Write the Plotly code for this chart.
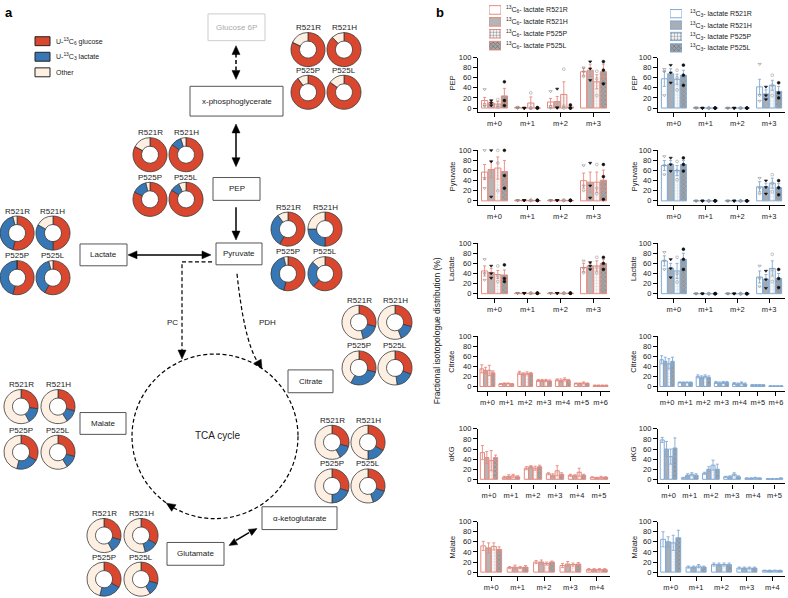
import math
import plotly.graph_objects as go

W, H = 788, 598
FONT = "Liberation Sans, Arial, Helvetica, sans-serif"

# ======================= DATA =======================
cell_lines = ["R521R", "R521H", "P525P", "P525L"]
source_labels = ["U-<sup>13</sup>C<sub>6</sub> glucose", "U-<sup>13</sup>C<sub>3</sub> lactate", "Other"]

# Panel a: share (%) of each pool labelled from [glucose, lactate, other], per cell line
xpg_frac = [[82, 0, 18], [88, 0, 12], [90, 0, 10], [85, 0, 15]]
pep_frac = [[83, 0, 17], [85, 10, 5], [82, 14, 4], [84, 9, 7]]
lac_frac = [[54, 42, 4], [50, 33, 17], [54, 46, 0], [58, 38, 4]]
pyr_frac = [[58, 32, 10], [50, 25, 25], [54, 42, 4], [62, 25, 13]]
cit_frac = [[29, 17, 54], [29, 15, 56], [29, 29, 42], [31, 17, 52]]
akg_frac = [[29, 13, 58], [33, 17, 50], [30, 20, 50], [30, 15, 55]]
mal_frac = [[27, 15, 58], [29, 12, 59], [33, 21, 46], [29, 12, 59]]
glu_frac = [[29, 13, 58], [33, 13, 54], [33, 21, 46], [29, 12, 59]]

# Panel b: isotopologue labels
iso4 = ["m+0", "m+1", "m+2", "m+3"]
iso5 = ["m+0", "m+1", "m+2", "m+3", "m+4"]
iso6 = ["m+0", "m+1", "m+2", "m+3", "m+4", "m+5"]
iso7 = ["m+0", "m+1", "m+2", "m+3", "m+4", "m+5", "m+6"]
metabolites = ["PEP", "Pyruvate", "Lactate", "Citrate", "αKG", "Malate"]

# rows = isotopologue, columns = [R521R, R521H, P525P, P525L]; mean and SEM (%)
glc_pep_mean = [[15, 10, 8, 24], [1, 0, 10, 0], [12, 13, 27, 2], [72, 75, 52, 72]]
glc_pep_sem = [[6, 4, 5, 15], [1, 0, 12, 1], [7, 10, 25, 3], [7, 12, 14, 15]]
glc_pyr_mean = [[57, 62, 65, 58], [1, 1, 1, 1], [1, 1, 1, 1], [40, 37, 37, 41]]
glc_pyr_sem = [[15, 16, 22, 22], [0.5, 0.5, 0.5, 0.5], [0.5, 0.5, 0.5, 0.5], [15, 20, 20, 20]]
glc_lac_mean = [[45, 42, 38, 37], [1, 1, 1, 1], [1, 1, 1, 1], [52, 55, 55, 60]]
glc_lac_sem = [[10, 8, 8, 10], [0.5, 0.5, 0.5, 0.5], [0.5, 0.5, 0.5, 0.5], [8, 5, 10, 8]]
glc_cit_mean = [[35, 32, 32, 27], [5, 6, 6, 5], [27, 25, 26, 26], [12, 12, 12, 11],
                [13, 12, 14, 12], [6, 6, 7, 6], [2, 2, 2, 2]]
glc_cit_sem = [[8, 6, 10, 4], [1, 1, 1, 1], [3, 2, 3, 2], [2, 2, 2, 2],
               [2, 3, 3, 2], [1, 1, 2, 1], [1, 1, 1, 1]]
glc_akg_mean = [[53, 43, 37, 43], [4, 6, 7, 5], [22, 25, 22, 25], [11, 8, 17, 10],
                [8, 7, 14, 8], [4, 3, 4, 4]]
glc_akg_sem = [[14, 12, 20, 5], [2, 3, 3, 2], [3, 2, 4, 3], [2, 3, 10, 3],
               [2, 2, 8, 2], [1, 1, 2, 1]]
glc_mal_mean = [[52, 48, 51, 45], [9, 10, 9, 10], [20, 20, 17, 20], [13, 16, 15, 16], [5, 5, 5, 5]]
glc_mal_sem = [[9, 10, 7, 5], [2, 4, 2, 3], [3, 4, 3, 2], [4, 5, 3, 3], [2, 2, 2, 2]]

lac_pep_mean = [[58, 68, 57, 65], [0.5, 0, 0, 0], [0, 0, 0, 0], [42, 28, 45, 33]]
lac_pep_sem = [[15, 10, 10, 10], [0.5, 0.5, 0.5, 0.5], [0.5, 0.5, 0.5, 0.5], [15, 8, 10, 10]]
lac_pyr_mean = [[70, 72, 60, 72], [0, 0, 0, 0], [0, 0, 0, 0], [28, 27, 35, 26]]
lac_pyr_sem = [[10, 8, 10, 8], [0.5, 0.5, 0.5, 0.5], [0.5, 0.5, 0.5, 0.5], [10, 8, 10, 8]]
lac_lac_mean = [[65, 50, 45, 68], [0, 0, 0, 0], [0, 0, 0, 0], [33, 28, 50, 30]]
lac_lac_sem = [[10, 10, 15, 12], [0.5, 0.5, 0.5, 0.5], [0.5, 0.5, 0.5, 0.5], [12, 10, 15, 10]]
lac_cit_mean = [[53, 50, 45, 50], [8, 8, 8, 8], [20, 18, 20, 18], [8, 7, 8, 8],
                [6, 5, 7, 5], [3, 3, 3, 3], [1, 1, 1, 1]]
lac_cit_sem = [[8, 8, 10, 8], [1, 1, 1, 1], [3, 3, 3, 3], [2, 2, 2, 2],
               [2, 2, 2, 2], [1, 1, 1, 1], [0.5, 0.5, 0.5, 0.5]]
lac_akg_mean = [[78, 60, 45, 62], [3, 8, 10, 8], [12, 20, 28, 20], [5, 5, 10, 5],
                [2, 2, 3, 2], [1, 1, 1, 2]]
lac_akg_sem = [[5, 15, 15, 20], [1, 3, 3, 3], [2, 5, 10, 10], [1, 2, 3, 2],
               [1, 1, 1, 1], [0.5, 0.5, 0.5, 1]]
lac_mal_mean = [[65, 60, 58, 68], [10, 10, 12, 10], [15, 15, 15, 15], [8, 8, 8, 8], [3, 3, 3, 3]]
lac_mal_sem = [[15, 10, 15, 15], [2, 2, 3, 2], [3, 3, 3, 3], [2, 2, 2, 2], [1, 1, 1, 1]]

# individual replicates (3 per bar) for the glycolytic metabolites: [iso][cell line]
glc_pep_pts = [[[37, 5, 4], [15, 10, 5], [17, 5, 2], [52, 15, 5]],
               [[2, 0, 0], [0, 0, 0], [30, 0, 0], [1, 0, 0]],
               [[33, 3, 0], [38, 1, 0], [77, 4, 0], [6, 0, 0]],
               [[80, 72, 62], [92, 78, 55], [73, 58, 25], [92, 75, 48]]]
glc_pyr_pts = [[[100, 45, 25], [100, 78, 8], [100, 75, 20], [100, 50, 25]],
               [[1, 1, 1], [1, 1, 1], [1, 1, 1], [1, 1, 1]],
               [[1, 1, 1], [1, 1, 1], [1, 1, 1], [1, 1, 1]],
               [[70, 30, 20], [75, 30, 6], [72, 25, 14], [72, 48, 3]]]
glc_lac_pts = [[[68, 40, 27], [55, 40, 31], [55, 35, 24], [57, 30, 24]],
               [[1, 1, 1], [1, 1, 1], [1, 1, 1], [1, 1, 1]],
               [[1, 1, 1], [1, 1, 1], [1, 1, 1], [1, 1, 1]],
               [[65, 50, 41], [62, 55, 48], [72, 52, 41], [72, 60, 48]]]
lac_pep_pts = [[[77, 72, 25], [85, 70, 50], [75, 60, 36], [85, 65, 45]],
               [[1, 0, 0], [0, 0, 0], [0, 0, 0], [0, 0, 0]],
               [[0, 0, 0], [0, 0, 0], [0, 0, 0], [0, 0, 0]],
               [[87, 25, 14], [42, 25, 17], [65, 45, 25], [50, 30, 20]]]
lac_pyr_pts = [[[88, 70, 52], [85, 72, 59], [78, 60, 42], [85, 72, 59]],
               [[0, 0, 0], [0, 0, 0], [0, 0, 0], [0, 0, 0]],
               [[0, 0, 0], [0, 0, 0], [0, 0, 0], [0, 0, 0]],
               [[45, 25, 14], [40, 27, 14], [52, 35, 18], [40, 26, 12]]]
lac_lac_pts = [[[82, 65, 48], [68, 50, 32], [72, 40, 23], [88, 68, 48]],
               [[0, 0, 0], [0, 0, 0], [0, 0, 0], [0, 0, 0]],
               [[0, 0, 0], [0, 0, 0], [0, 0, 0], [0, 0, 0]],
               [[55, 30, 14], [45, 28, 11], [78, 48, 24], [48, 30, 12]]]

# ======================= STYLE =======================
RED, BLUE, OTHER = "#d9472f", "#3877b5", "#fdf0e3"
left_line, right_line = "#e58a80", "#82aad4"
left_fill = ["#ffffff", "#b5b5b5", "#ffffff", "#a6a6a6"]
right_fill = ["#ffffff", "#a9aeb5", "#ffffff", "#9ea4ab"]
pat_shape = ["", "", ".", "x"]
pat_fg = ["#ffffff", "#b5b5b5", "#bdbdbd", "#7a7a7a"]
pt_symbol = ["triangle-down-open", "triangle-down", "circle-open", "circle"]
pt_color = ["#8a8a8a", "#111111", "#9a9a9a", "#111111"]


def X(x):
    return min(max(x / W, 0.0), 1.0)


def Y(y):
    return min(max(1 - y / H, 0.0), 1.0)


traces = []
shapes = []
annots = []


def text(x, y, s, size=8, color="#222", angle=0, xanchor="center", yanchor="middle", bold=False):
    if bold:
        s = "<b>" + s + "</b>"
    annots.append(dict(x=X(x), y=Y(y), xref="paper", yref="paper", text=s, showarrow=False,
                       font=dict(size=size, color=color, family=FONT), textangle=angle,
                       xanchor=xanchor, yanchor=yanchor))


def box(x0, y0, x1, y1, label, lc="#555", tc="#222"):
    shapes.append(dict(type="rect", xref="paper", yref="paper", x0=X(x0), x1=X(x1), y0=Y(y1), y1=Y(y0),
                       line=dict(color=lc, width=1), fillcolor="white", layer="above"))
    text((x0 + x1) / 2, (y0 + y1) / 2, label, size=8, color=tc)


def seg(x0, y0, x1, y1, dash="solid", w=1.5):
    shapes.append(dict(type="line", xref="paper", yref="paper", x0=X(x0), y0=Y(y0), x1=X(x1), y1=Y(y1),
                       line=dict(color="black", width=w, dash=dash)))


def path(pts, dash="solid", w=1.2):
    shapes.append(dict(type="path", xref="paper", yref="paper", path=pts,
                       line=dict(color="black", width=w, dash=dash)))


def head(tx, ty, dx, dy, L=9, Wd=8):
    n = math.hypot(dx, dy)
    ux, uy = dx / n, dy / n
    bx, by = tx - ux * L, ty - uy * L
    px, py = -uy, ux
    p1 = (bx + px * Wd / 2, by + py * Wd / 2)
    p2 = (bx - px * Wd / 2, by - py * Wd / 2)
    pts = "M {} {} L {} {} L {} {} Z".format(X(tx), Y(ty), X(p1[0]), Y(p1[1]), X(p2[0]), Y(p2[1]))
    shapes.append(dict(type="path", xref="paper", yref="paper", path=pts,
                       fillcolor="black", line=dict(color="black", width=0.5)))


DASH = "4px,2.5px"

# ======================= PANEL a =======================
text(9, 9, "a", size=13, color="black", bold=True)
for i, (lab, col) in enumerate(zip(source_labels, [RED, BLUE, OTHER])):
    yc = 37.5 + i * 15.7
    shapes.append(dict(type="rect", xref="paper", yref="paper", x0=X(35), x1=X(50), y0=Y(yc + 4.5), y1=Y(yc - 4.5),
                       fillcolor=col, line=dict(color="#222", width=1)))
    text(54, yc, lab, size=7, xanchor="left")

box(208, 10, 265, 37, "Glucose 6P", lc="#cccccc", tc="#aaaaaa")
box(190, 83, 283, 113, "x-phosphoglycerate")
box(213, 175, 260, 198, "PEP")
box(216, 241, 262, 263, "Pyruvate")
box(80, 242, 127, 264, "Lactate")
box(288, 369, 333, 392, "Citrate")
box(80, 412, 126, 434, "Malate")
box(262, 507, 337, 530, "α-ketoglutarate")
box(167, 543, 224, 566, "Glutamate")

# arrows
seg(236, 50, 236, 68, dash=DASH)
head(236, 42, 0, -1)
head(236, 76, 0, 1)
seg(236, 129, 236, 156)
head(236, 121, 0, -1)
head(236, 164, 0, 1)
seg(236, 205, 236, 230)
head(236, 238, 0, 1)
seg(136, 253, 203, 253)
head(128, 253, -1, 0)
head(211, 253, 1, 0)
path("M {} {} L {} {} L {} {}".format(X(212), Y(260), X(182), Y(260), X(182), Y(350)), dash=DASH)
head(182, 358, 0, 1)
path("M {} {} Q {} {} {} {}".format(X(237), Y(272), X(244), Y(338), X(257), Y(360)), dash=DASH)
head(262, 368, 11, 20)
text(172, 321, "PC", size=8)
text(267, 321, "PDH", size=8)

# TCA cycle
cx, cy, rr = 215, 436, 83
shapes.append(dict(type="circle", xref="paper", yref="paper", x0=X(cx - rr), x1=X(cx + rr),
                   y0=Y(cy + rr), y1=Y(cy - rr), line=dict(color="black", width=1.2, dash=DASH)))
th = math.atan2(505 - cy, 170 - cx)
ptx, pty = cx + rr * math.cos(th), cy + rr * math.sin(th)
head(ptx - math.sin(th) * 4, pty + math.cos(th) * 4, -math.sin(th), math.cos(th))
text(217, 435, "TCA cycle", size=10)

# glutamate <-> aKG
seg(236, 541, 249, 533)
head(229, 546, -27, 15, L=8, Wd=7)
head(257, 529, 27, -15, L=8, Wd=7)

# donut groups: (fractions, top-left centre x, y, dx, dy)
groups = [
    (xpg_frac, 308, 46, 36, 43),
    (pep_frac, 150, 152, 36, 45),
    (lac_frac, 17, 231, 36, 45),
    (pyr_frac, 288, 227, 37, 45),
    (cit_frac, 359, 321, 36, 46),
    (akg_frac, 332, 442, 36, 44),
    (mal_frac, 21, 406, 37, 46),
    (glu_frac, 104, 536, 37, 44),
]
R = 17.2
for frac, gx, gy, dx, dy in groups:
    for j, name in enumerate(cell_lines):
        pcx = gx + (j % 2) * dx
        pcy = gy + (j // 2) * dy
        traces.append(go.Pie(values=frac[j], labels=["glucose", "lactate", "other"], sort=False,
                             direction="clockwise", rotation=0, hole=0.5, textinfo="none",
                             marker=dict(colors=[RED, BLUE, OTHER], line=dict(color="#3a3a3a", width=0.8)),
                             domain=dict(x=[X(pcx - R), X(pcx + R)], y=[Y(pcy + R), Y(pcy - R)]),
                             showlegend=False, hoverinfo="skip"))
        text(pcx, pcy - R - 5, name, size=8)

# ======================= PANEL b =======================
text(440, 9, "b", size=13, color="black", bold=True)
text(437, 330, "Fractional isotopologue distribution (%)", size=8.5, angle=-90)

panels = [
    ("PEP", iso4, glc_pep_mean, glc_pep_sem, lac_pep_mean, lac_pep_sem, glc_pep_pts, lac_pep_pts),
    ("Pyruvate", iso4, glc_pyr_mean, glc_pyr_sem, lac_pyr_mean, lac_pyr_sem, glc_pyr_pts, lac_pyr_pts),
    ("Lactate", iso4, glc_lac_mean, glc_lac_sem, lac_lac_mean, lac_lac_sem, glc_lac_pts, lac_lac_pts),
    ("Citrate", iso7, glc_cit_mean, glc_cit_sem, lac_cit_mean, lac_cit_sem, None, None),
    ("αKG", iso6, glc_akg_mean, glc_akg_sem, lac_akg_mean, lac_akg_sem, None, None),
    ("Malate", iso5, glc_mal_mean, glc_mal_sem, lac_mal_mean, lac_mal_sem, None, None),
]

layout_axes = {}
for r, (met, isos, gm, gs, lm, ls, gp, lp) in enumerate(panels):
    y100 = 54 + 93.6 * r
    for c in range(2):
        k = r * 2 + c + 1
        xa = "x" if k == 1 else "x%d" % k
        ya = "y" if k == 1 else "y%d" % k
        mean = gm if c == 0 else lm
        sem = gs if c == 0 else ls
        pts = gp if c == 0 else lp
        lc = left_line if c == 0 else right_line
        fills = left_fill if c == 0 else right_fill
        for j in range(4):
            traces.append(go.Bar(
                x=isos, y=[row[j] for row in mean], xaxis=xa, yaxis=ya, offsetgroup=str(j),
                marker=dict(color=fills[j], line=dict(color=lc, width=1),
                            pattern=dict(shape=pat_shape[j], fgcolor=pat_fg[j], bgcolor=fills[j],
                                         size=3, solidity=0.45)),
                error_y=dict(type="data", array=[row[j] for row in sem], color=lc, thickness=0.9, width=1.5),
                showlegend=False, hoverinfo="skip"))
        if pts is not None:
            for j in range(4):
                xs, ys = [], []
                for i, iso in enumerate(isos):
                    for v in pts[i][j]:
                        xs.append(iso)
                        ys.append(v)
                traces.append(go.Scatter(
                    x=xs, y=ys, xaxis=xa, yaxis=ya, mode="markers", offsetgroup=str(j), cliponaxis=False,
                    marker=dict(symbol=pt_symbol[j], size=2.8, color=pt_color[j],
                                line=dict(color=pt_color[j], width=0.6)),
                    showlegend=False, hoverinfo="skip"))
        xdom = [X(478), X(610)] if c == 0 else [X(658), X(785)]
        ydom = [Y(y100 + 55), Y(y100)]
        layout_axes["xaxis" if k == 1 else "xaxis%d" % k] = dict(
            domain=xdom, anchor=ya, type="category", range=[-0.5, len(isos) - 0.5],
            showline=True, linecolor="black", linewidth=1.3, ticks="outside", ticklen=4, tickwidth=1.3,
            tickcolor="black", tickfont=dict(size=7.5, family=FONT, color="#222"), showgrid=False,
            zeroline=False, fixedrange=True)
        layout_axes["yaxis" if k == 1 else "yaxis%d" % k] = dict(
            domain=ydom, anchor=xa, range=[-8, 100], tickvals=[0, 20, 40, 60, 80, 100],
            showline=True, linecolor="black", linewidth=1.3, ticks="outside", ticklen=4, tickwidth=1.3,
            tickcolor="black", tickfont=dict(size=7.5, family=FONT, color="#222"), showgrid=False,
            zeroline=False, fixedrange=True)
        text(452 if c == 0 else 634, y100 + 26, met, size=7.5, angle=-90)

# legends of panel b (swatches drawn as bars in small axes)
leg_specs = [
    (13, [489, 501], [0, 48], left_fill, left_line, "<sup>13</sup>C<sub>6</sub>- lactate ", 504),
    (14, [670, 682], [4, 50], right_fill, right_line, "<sup>13</sup>C<sub>3</sub>- lactate ", 688),
]
for k, xd, yd, fills, lc, prefix, tx in leg_specs:
    traces.append(go.Bar(
        x=[1, 1, 1, 1], y=[0, 1, 2, 3], orientation="h", width=0.72, xaxis="x%d" % k, yaxis="y%d" % k,
        marker=dict(color=fills, line=dict(color=lc, width=1),
                    pattern=dict(shape=pat_shape, fgcolor=pat_fg, bgcolor=fills, size=3, solidity=0.45)),
        showlegend=False, hoverinfo="skip"))
    layout_axes["xaxis%d" % k] = dict(domain=[X(xd[0]), X(xd[1])], range=[0, 1], visible=False,
                                      anchor="y%d" % k, fixedrange=True)
    layout_axes["yaxis%d" % k] = dict(domain=[Y(yd[1]), Y(yd[0])], range=[3.5, -0.5], visible=False,
                                      anchor="x%d" % k, fixedrange=True)
    step = (yd[1] - yd[0]) / 4
    for j, name in enumerate(cell_lines):
        text(tx, yd[0] + step * (j + 0.5), prefix + name, size=7, xanchor="left")

fig = go.Figure(data=traces)
fig.update_layout(
    width=W, height=H, margin=dict(l=0, r=0, t=0, b=0), autosize=False,
    paper_bgcolor="white", plot_bgcolor="white", barmode="group", bargap=0.2, bargroupgap=0.06,
    scattermode="group", scattergap=0.2,
    font=dict(family=FONT, size=8, color="#222"), showlegend=False,
    shapes=shapes, annotations=annots, **layout_axes)

fig.write_html("out.html", config={"displayModeBar": False},
               post_script="document.body.style.margin='0';")
